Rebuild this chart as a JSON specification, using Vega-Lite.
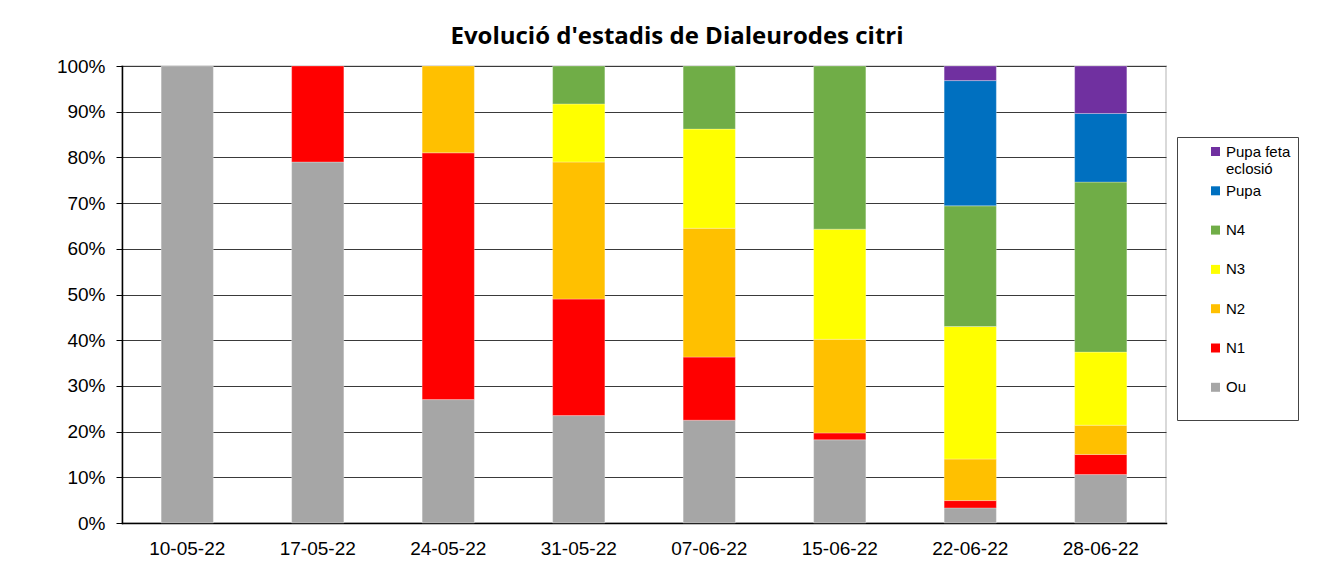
{
  "$schema": "https://vega.github.io/schema/vega-lite/v6.json",
  "width": 1044,
  "height": 457,
  "autosize": {"type": "none"},
  "padding": {"left": 122, "top": 66, "right": 155, "bottom": 65},
  "background": "white",
  "title": {
    "text": "Evolució d'estadis de Dialeurodes citri",
    "font": "Open Sans",
    "fontSize": 24,
    "fontWeight": "bold",
    "color": "#000000",
    "anchor": "middle",
    "dx": 33,
    "offset": 8
  },
  "data": {
    "values": [
      {"date": "10-05-22", "stage": "Ou", "pct": 100},
      {"date": "17-05-22", "stage": "Ou", "pct": 79},
      {"date": "17-05-22", "stage": "N1", "pct": 21},
      {"date": "24-05-22", "stage": "Ou", "pct": 27},
      {"date": "24-05-22", "stage": "N1", "pct": 54},
      {"date": "24-05-22", "stage": "N2", "pct": 19},
      {"date": "31-05-22", "stage": "Ou", "pct": 23.5},
      {"date": "31-05-22", "stage": "N1", "pct": 25.5},
      {"date": "31-05-22", "stage": "N2", "pct": 30},
      {"date": "31-05-22", "stage": "N3", "pct": 12.7},
      {"date": "31-05-22", "stage": "N4", "pct": 8.3},
      {"date": "07-06-22", "stage": "Ou", "pct": 22.5},
      {"date": "07-06-22", "stage": "N1", "pct": 13.8},
      {"date": "07-06-22", "stage": "N2", "pct": 28.2},
      {"date": "07-06-22", "stage": "N3", "pct": 21.7},
      {"date": "07-06-22", "stage": "N4", "pct": 13.8},
      {"date": "15-06-22", "stage": "Ou", "pct": 18.2},
      {"date": "15-06-22", "stage": "N1", "pct": 1.5},
      {"date": "15-06-22", "stage": "N2", "pct": 20.5},
      {"date": "15-06-22", "stage": "N3", "pct": 24.1},
      {"date": "15-06-22", "stage": "N4", "pct": 35.7},
      {"date": "22-06-22", "stage": "Ou", "pct": 3.3},
      {"date": "22-06-22", "stage": "N1", "pct": 1.6},
      {"date": "22-06-22", "stage": "N2", "pct": 9.1},
      {"date": "22-06-22", "stage": "N3", "pct": 29},
      {"date": "22-06-22", "stage": "N4", "pct": 26.4},
      {"date": "22-06-22", "stage": "Pupa", "pct": 27.4},
      {"date": "22-06-22", "stage": "Pupa feta eclosió", "pct": 3.2},
      {"date": "28-06-22", "stage": "Ou", "pct": 10.6},
      {"date": "28-06-22", "stage": "N1", "pct": 4.4},
      {"date": "28-06-22", "stage": "N2", "pct": 6.4},
      {"date": "28-06-22", "stage": "N3", "pct": 16},
      {"date": "28-06-22", "stage": "N4", "pct": 37.2},
      {"date": "28-06-22", "stage": "Pupa", "pct": 15},
      {"date": "28-06-22", "stage": "Pupa feta eclosió", "pct": 10.4}
    ]
  },
  "transform": [
    {"calculate": "datum.stage == 'Ou' ? 0 : datum.stage == 'N1' ? 1 : datum.stage == 'N2' ? 2 : datum.stage == 'N3' ? 3 : datum.stage == 'N4' ? 4 : datum.stage == 'Pupa' ? 5 : 6", "as": "stackIndex"}
  ],
  "mark": {"type": "bar", "stroke": "#ffffff", "strokeOpacity": 0.35, "strokeWidth": 0.8},
  "encoding": {
    "x": {
      "field": "date",
      "type": "nominal",
      "sort": ["10-05-22","17-05-22","24-05-22","31-05-22","07-06-22","15-06-22","22-06-22","28-06-22"],
      "scale": {"paddingInner": 0.6, "paddingOuter": 0.3},
      "axis": {
        "title": null,
        "labelAngle": 0,
        "labelFont": "Liberation Sans",
        "labelFontSize": 19,
        "labelColor": "#000000",
        "labelPadding": 16,
        "ticks": false,
        "domainColor": "#000000",
        "domainWidth": 1.5
      }
    },
    "y": {
      "field": "pct",
      "type": "quantitative",
      "stack": "zero",
      "scale": {"domain": [0, 100], "nice": false},
      "axis": {
        "title": null,
        "values": [0,10,20,30,40,50,60,70,80,90,100],
        "labelExpr": "datum.value + '%'",
        "labelFont": "Liberation Sans",
        "labelFontSize": 19,
        "labelColor": "#000000",
        "labelPadding": 11,
        "tickColor": "#000000",
        "tickSize": 6,
        "domainColor": "#000000",
        "domainWidth": 1.5,
        "grid": true,
        "gridColor": "#3a3a3a",
        "gridWidth": 1.2
      }
    },
    "color": {
      "field": "stage",
      "type": "nominal",
      "scale": {
        "domain": ["Pupa feta eclosió","Pupa","N4","N3","N2","N1","Ou"],
        "range": ["#7030a0","#0070c0","#70ad47","#ffff00","#ffc000","#ff0000","#a6a6a6"]
      },
      "legend": {
        "title": null,
        "orient": "none",
        "legendX": 1055,
        "legendY": 71,
        "padding": 7,
        "symbolOffset": 24,
        "symbolType": "square",
        "symbolSize": 81,
        "symbolStrokeWidth": 0,
        "labelFont": "Liberation Sans",
        "labelFontSize": 15,
        "labelColor": "#000000",
        "labelOffset": 3,
        "labelLimit": 300,
        "labelExpr": "datum.label == 'Pupa feta eclosió' ? ['Pupa feta', 'eclosió'] : [datum.label, '\u00a0']",
        "rowPadding": 6.3,
        "strokeColor": "#444444",
        "fillColor": "#ffffff"
      }
    },
    "order": {"field": "stackIndex", "type": "quantitative", "sort": "ascending"}
  },
  "config": {
    "view": {"stroke": "#d9d9d9", "strokeWidth": 2},
    "axis": {"domainCap": "square"}
  }
}
